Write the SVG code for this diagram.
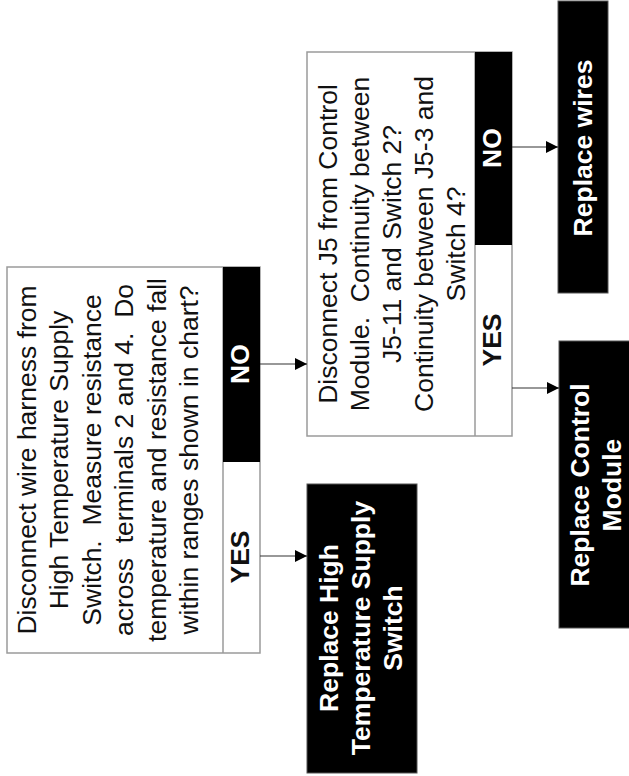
<svg xmlns="http://www.w3.org/2000/svg" width="629" height="776" viewBox="0 0 629 776">
<style>
.box{fill:#fff;stroke:#9a9a9a;stroke-width:1.5}
.blk{fill:#000;stroke:#555;stroke-width:1}
.div{stroke:#9a9a9a;stroke-width:1.5}
.t{font-family:"Liberation Sans",Arial,sans-serif;font-size:26.5px;fill:#111;text-anchor:middle;white-space:pre}
.b{font-family:"Liberation Sans",Arial,sans-serif;font-size:26.5px;font-weight:bold;text-anchor:middle}
.w{fill:#fff}
.k{fill:#111}
.conn{stroke:#333;stroke-width:1.2;fill:none}
</style>
<defs>
<marker id="ah" viewBox="0 0 10 10" refX="10" refY="5" markerWidth="14" markerHeight="12" markerUnits="userSpaceOnUse" orient="auto">
<path d="M0,0 L10,5 L0,10 z" fill="#000"/>
</marker>
</defs>
<g id="q1">
<rect class="box" x="7" y="267" width="253" height="386"/>
<line class="div" x1="223" y1="267" x2="223" y2="653"/>
<rect x="223" y="267" width="37" height="195" fill="#000"/>
<text class="t" xml:space="preserve" transform="translate(36,460) rotate(-90)">Disconnect wire harness from</text>
<text class="t" xml:space="preserve" transform="translate(68,460) rotate(-90)">High Temperature Supply</text>
<text class="t" xml:space="preserve" transform="translate(100.5,460) rotate(-90)">Switch.  Measure resistance</text>
<text class="t" xml:space="preserve" transform="translate(133,460) rotate(-90)">across  terminals 2 and 4.  Do</text>
<text class="t" xml:space="preserve" transform="translate(165.5,460) rotate(-90)">temperature and resistance fall</text>
<text class="t" xml:space="preserve" transform="translate(198,460) rotate(-90)">within ranges shown in chart?</text>
<text class="b w" transform="translate(249,364) rotate(-90)">NO</text>
<text class="b k" transform="translate(249,557) rotate(-90)">YES</text>
</g>
<g id="q2">
<rect class="box" x="307" y="52" width="205" height="384"/>
<line class="div" x1="475" y1="52" x2="475" y2="436"/>
<rect x="475" y="52" width="37" height="193" fill="#000"/>
<text class="t" xml:space="preserve" transform="translate(337,244) rotate(-90)">Disconnect J5 from Control</text>
<text class="t" xml:space="preserve" transform="translate(369,244) rotate(-90)">Module.  Continuity between</text>
<text class="t" xml:space="preserve" transform="translate(401,244) rotate(-90)">J5-11 and Switch 2?</text>
<text class="t" xml:space="preserve" transform="translate(433,244) rotate(-90)">Continuity between J5-3 and</text>
<text class="t" xml:space="preserve" transform="translate(465,244) rotate(-90)">Switch 4?</text>
<text class="b w" transform="translate(501,148) rotate(-90)">NO</text>
<text class="b k" transform="translate(501,340) rotate(-90)">YES</text>
</g>
<g id="wires">
<rect class="blk" x="558" y="1" width="50" height="292"/>
<text class="b w" transform="translate(592,148) rotate(-90)">Replace wires</text>
</g>
<g id="rcm">
<rect class="blk" x="559" y="341" width="110" height="287"/>
<text class="b w" transform="translate(589,485) rotate(-90)">Replace Control</text>
<text class="b w" transform="translate(621,485) rotate(-90)">Module</text>
</g>
<g id="rhts">
<rect class="blk" x="307" y="484" width="110" height="289"/>
<text class="b w" transform="translate(338,628) rotate(-90)">Replace High</text>
<text class="b w" transform="translate(370,628) rotate(-90)">Temperature Supply</text>
<text class="b w" transform="translate(402,628) rotate(-90)">Switch</text>
</g>
<g id="connectors">
<line class="conn" x1="260" y1="364" x2="307" y2="364" marker-end="url(#ah)"/>
<line class="conn" x1="260" y1="556" x2="307" y2="556" marker-end="url(#ah)"/>
<line class="conn" x1="512" y1="147" x2="558" y2="147" marker-end="url(#ah)"/>
<line class="conn" x1="512" y1="388" x2="559" y2="388" marker-end="url(#ah)"/>
</g>
</svg>
